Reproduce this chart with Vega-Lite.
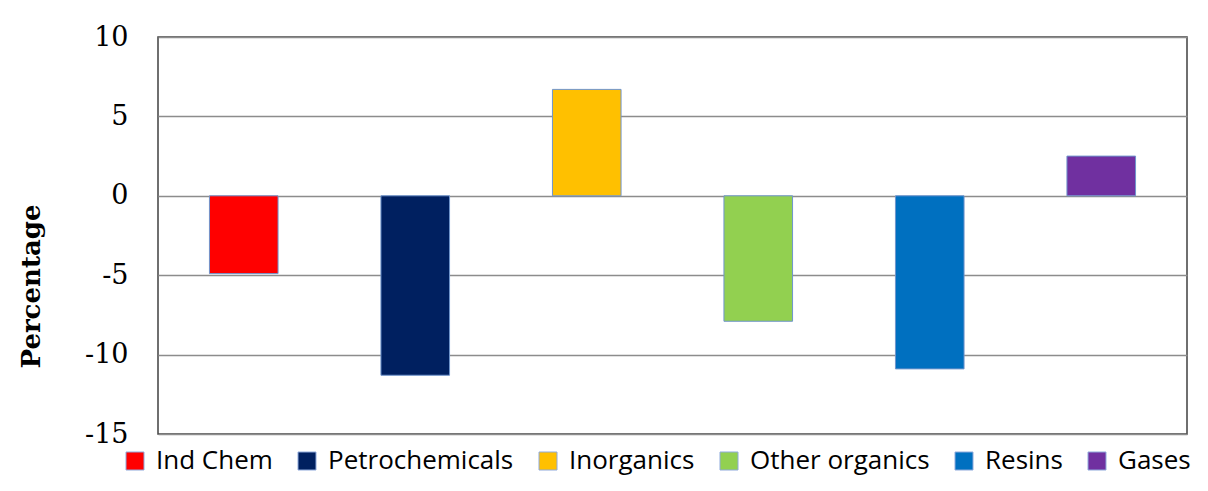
{
  "$schema": "https://vega.github.io/schema/vega-lite/v6.json",
  "width": 1029,
  "height": 397,
  "autosize": {"type": "none"},
  "padding": {"left": 158, "top": 37, "right": 21, "bottom": 57},
  "background": "white",
  "data": {
    "values": [
      {"category": "Ind Chem", "value": -4.9},
      {"category": "Petrochemicals", "value": -11.3},
      {"category": "Inorganics", "value": 6.7},
      {"category": "Other organics", "value": -7.9},
      {"category": "Resins", "value": -10.9},
      {"category": "Gases", "value": 2.5}
    ]
  },
  "mark": {"type": "bar", "stroke": "#6f94cc", "strokeWidth": 1},
  "encoding": {
    "x": {
      "field": "category",
      "type": "nominal",
      "sort": null,
      "axis": null,
      "scale": {"paddingInner": 0.6, "paddingOuter": 0.3}
    },
    "y": {
      "field": "value",
      "type": "quantitative",
      "scale": {"domain": [-15, 10], "nice": false, "zero": false},
      "axis": {
        "title": "Percentage",
        "values": [-15, -10, -5, 0, 5, 10],
        "labelExpr": "replace(datum.label, '\u2212', '-')",
        "ticks": false,
        "domain": false,
        "grid": true,
        "gridColor": "#8c8c8c",
        "gridWidth": 1.5,
        "labelFont": "DejaVu Serif",
        "labelFontSize": 27,
        "labelColor": "#000000",
        "labelPadding": 30,
        "labelFlush": false,
        "titleFont": "DejaVu Serif",
        "titleFontWeight": "bold",
        "titleFontSize": 26,
        "titleColor": "#000000",
        "titleX": -127,
        "titleY": 249,
        "titleBaseline": "middle"
      }
    },
    "color": {
      "field": "category",
      "type": "nominal",
      "sort": null,
      "scale": {
        "domain": ["Ind Chem", "Petrochemicals", "Inorganics", "Other organics", "Resins", "Gases"],
        "range": ["#FF0000", "#002060", "#FFC000", "#92D050", "#0070C0", "#7030A0"]
      },
      "legend": {
        "orient": "none",
        "legendX": -36,
        "legendY": 411,
        "direction": "horizontal",
        "title": null,
        "symbolType": "square",
        "symbolSize": 324,
        "symbolStrokeColor": "#8faadc",
        "symbolStrokeWidth": 1,
        "symbolOpacity": 1,
        "labelFont": "Open Sans",
        "labelFontSize": 26,
        "labelColor": "#000000",
        "labelOffset": 8,
        "labelLimit": 400,
        "columnPadding": 21
      }
    }
  },
  "config": {
    "view": {"stroke": "#404040", "strokeWidth": 1.5}
  }
}
